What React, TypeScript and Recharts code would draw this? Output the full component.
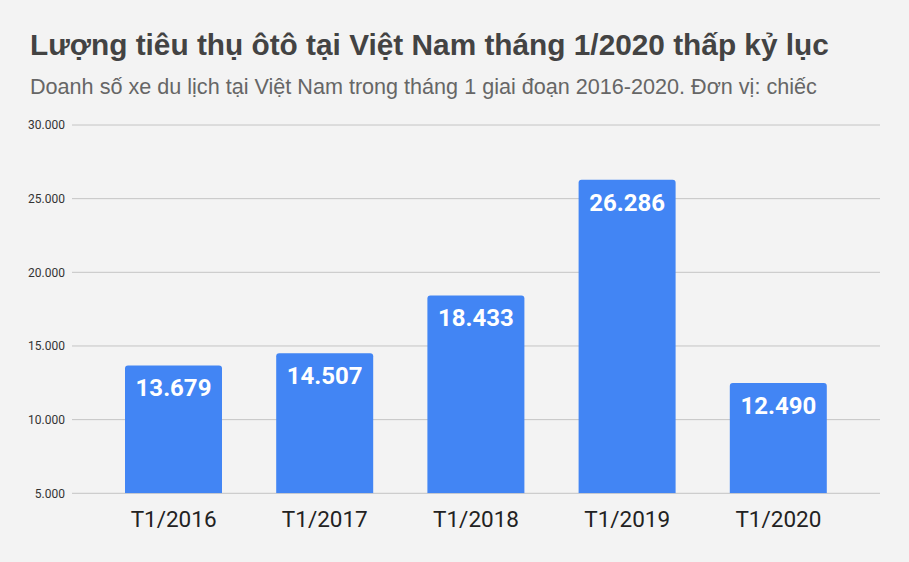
import React from 'react';
import { BarChart, Bar, XAxis, YAxis, CartesianGrid, LabelList } from 'recharts';

const categories = ['T1/2016', 'T1/2017', 'T1/2018', 'T1/2019', 'T1/2020'];
const sales = [13679, 14507, 18433, 26286, 12490];
const yTicks = [5000, 10000, 15000, 20000, 25000, 30000];

const data = categories.map((c, i) => ({ name: c, value: sales[i] }));

const fmt = (v: number) => v.toLocaleString('de-DE');

export default function App() {
  return (
    <div style={{ position: 'absolute', left: 0, top: 0, width: 909, height: 562, background: '#f3f3f3', overflow: 'hidden' }}>
      <div style={{ position: 'absolute', left: 30, top: 28, fontFamily: '"Liberation Sans", Arial, sans-serif', fontWeight: 'bold', fontSize: 29.8, color: '#434343', whiteSpace: 'nowrap', lineHeight: '34px' }}>
        Lượng tiêu thụ ôtô tại Việt Nam tháng 1/2020 thấp kỷ lục
      </div>
      <div style={{ position: 'absolute', left: 30, top: 74.5, fontFamily: '"Liberation Sans", Arial, sans-serif', fontSize: 21.6, color: '#666666', whiteSpace: 'nowrap', lineHeight: '24px' }}>
        Doanh số xe du lịch tại Việt Nam trong tháng 1 giai đoạn 2016-2020. Đơn vị: chiếc
      </div>
      <div style={{ position: 'absolute', left: 0, top: 0 }}>
        <BarChart width={909} height={562} data={data} margin={{ top: 125, right: 29, left: 0, bottom: 28.7 }}>
          <CartesianGrid vertical={false} stroke="#c4c4c4" />
          <XAxis
            dataKey="name"
            axisLine={false}
            tickLine={false}
            tickSize={0}
            tickMargin={18}
            height={40}
            padding={{ left: 26, right: 26 }}
            tick={{ fill: '#222222', fontSize: 22.5, fontFamily: 'Roboto, sans-serif' }}
          />
          <YAxis
            domain={[5000, 30000]}
            ticks={yTicks}
            allowDataOverflow
            axisLine={false}
            tickLine={false}
            tickSize={0}
            tickMargin={7}
            width={72}
            tickFormatter={fmt}
            tick={{ fill: '#333333', fontSize: 12, fontFamily: 'Roboto, sans-serif' }}
          />
          <Bar dataKey="value" fill="#4285f4" barSize={97} radius={[3, 3, 0, 0]} isAnimationActive={false}>
            <LabelList
              dataKey="value"
              position="insideTop"
              offset={14}
              formatter={(v: any) => fmt(Number(v))}
              fill="#ffffff"
              style={{ fontSize: 24, fontWeight: 'bold', fontFamily: 'Roboto, sans-serif' }}
            />
          </Bar>
        </BarChart>
      </div>
    </div>
  );
}
